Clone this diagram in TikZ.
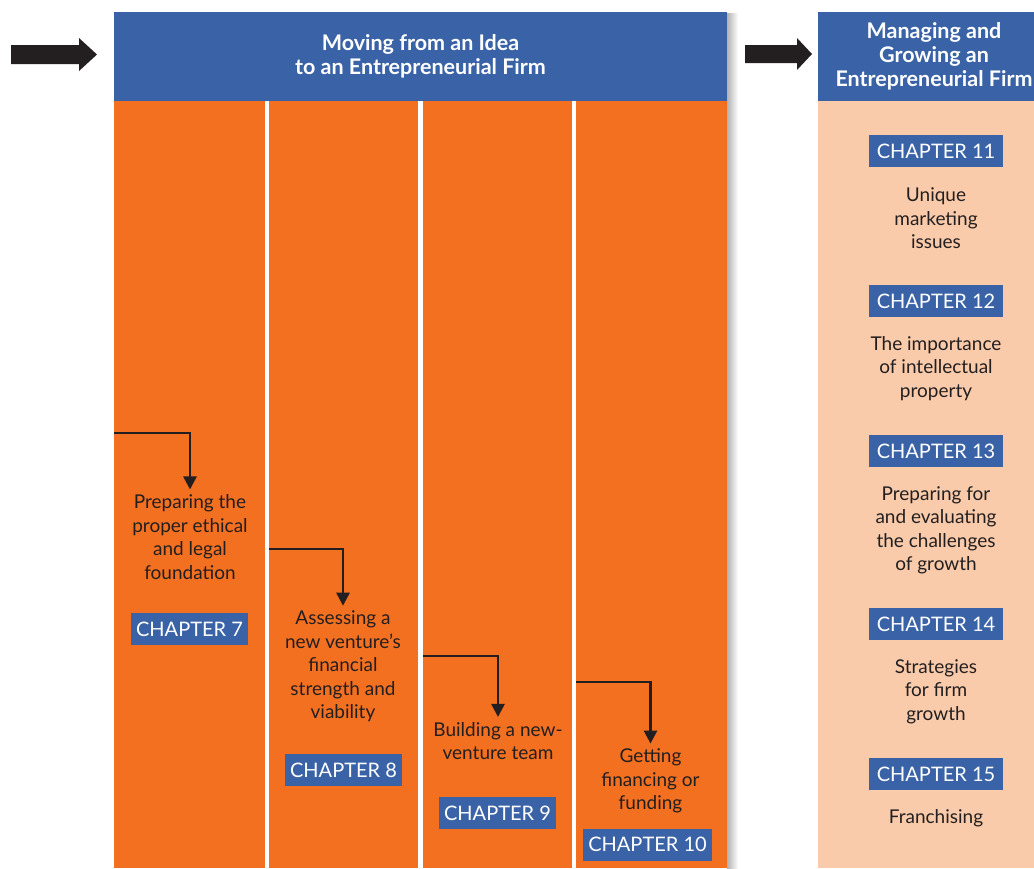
\documentclass[tikz,border=0pt]{standalone}
\usepackage{fontspec}
\setmainfont{Lato}
\usetikzlibrary{arrows.meta}
\definecolor{hblue}{HTML}{3A62A6}
\definecolor{orng}{HTML}{F37021}
\definecolor{peach}{HTML}{F9CBAA}
\definecolor{ink}{HTML}{231F20}
\tikzset{
  hdr/.style={fill=hblue, text=white, inner sep=0pt, align=center,
    font=\bfseries\fontsize{21.5}{24}\selectfont},
  colbox/.style={fill=orng, inner sep=0pt, minimum width=#1, minimum height=767},
  chap/.style={fill=hblue, text=white, inner xsep=5pt, inner ysep=0pt, minimum height=32,
    font=\fontsize{20}{22}\selectfont},
  rchap/.style={chap, minimum width=134},
  desc/.style={text=ink, align=center, inner sep=2pt,
    font=\fontsize{19}{23.5}\selectfont},
  flow/.style={draw=ink, line width=2.6pt, shorten >=3pt,
    -{Triangle[length=13pt,width=13pt]}},
  blockarrow/.style={fill=ink}
}
\begin{document}
\begin{tikzpicture}[x=1pt,y=-1pt]
\useasboundingbox (0,0) rectangle (1034,868);
\clip (0,0) rectangle (1034,868);
\fill[white] (0,0) rectangle (1034,868);
% shadow
\shade[left color=black!30, right color=white] (727,13) rectangle (738,868);
% block arrows
\fill[blockarrow] (11,45) -- (79,45) -- (79,38) -- (97,54.5) -- (79,71) -- (79,64) -- (11,64) -- cycle;
\fill[blockarrow] (745,45) -- (797,45) -- (797,38) -- (812,54) -- (797,70) -- (797,63) -- (745,63) -- cycle;
% columns
\node[colbox=151] (col1) at (189.5,484.5) {};
\node[colbox=149] (col2) at (343.5,484.5) {};
\node[colbox=149] (col3) at (497.5,484.5) {};
\node[colbox=151] (col4) at (651.5,484.5) {};
\node[fill=peach, inner sep=0pt, minimum width=216, minimum height=767] (rpanel) at (926,484.5) {};
% headers
\node[hdr, minimum width=613, minimum height=89] (h1) at (420.5,56.5) {Moving from an Idea\\to an Entrepreneurial Firm};
\node[fill=hblue, inner sep=0pt, minimum width=216, minimum height=89] (h2) at (926,56.5) {};
\node[hdr, fill=none] (h2t) at (934,56) {Managing and\\Growing an\\Entrepreneurial Firm};
% left texts
\node[desc] (t7) at (190,537) {Preparing the\\proper ethical\\and legal\\foundation};
\node[desc] (t8) at (343,666.5) {Assessing a\\new venture’s\\financial\\strength and\\viability};
\node[desc] (t9) at (498,741) {Building a new-\\venture team};
\node[desc] (t10) at (650.5,781) {Getting\\financing or\\funding};
\node[chap] (c7) at (189.5,629) {CHAPTER 7};
\node[chap] (c8) at (343.5,770) {CHAPTER 8};
\node[chap] (c9) at (497.5,813) {CHAPTER 9};
\node[chap] (c10) at (647.5,844.5) {CHAPTER 10};
% right texts
\node[rchap] (c11) at (936,151) {CHAPTER 11};
\node[desc] (r11) at (936,218.5) {Unique\\marketing\\issues};
\node[rchap] (c12) at (936,301) {CHAPTER 12};
\node[desc] (r12) at (936,368.5) {The importance\\of intellectual\\property};
\node[rchap] (c13) at (936,451) {CHAPTER 13};
\node[desc] (r13) at (936,530.5) {Preparing for\\and evaluating\\the challenges\\of growth};
\node[rchap] (c14) at (936,624) {CHAPTER 14};
\node[desc] (r14) at (936,691.5) {Strategies\\for firm\\growth};
\node[rchap] (c15) at (936,774) {CHAPTER 15};
\node[desc] (r15) at (936,818.5) {Franchising};
% flow connectors
\coordinate (s1) at (114,433);
\coordinate (s2) at (269,549);
\coordinate (s3) at (423,656);
\coordinate (s4) at (576,682);
\draw[flow] (s1) -| (t7);
\draw[flow] (s2) -| (t8);
\draw[flow] (s3) -| (t9);
\draw[flow] (s4) -| (t10);
\end{tikzpicture}
\end{document}
